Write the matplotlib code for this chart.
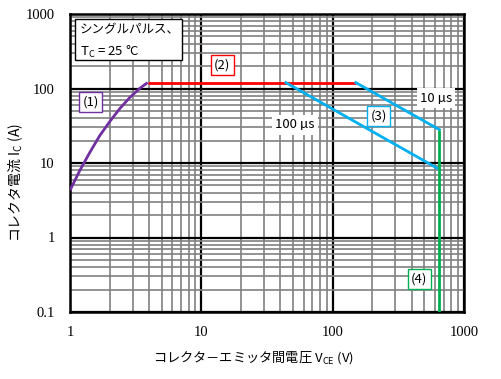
import numpy as np
import matplotlib
matplotlib.use('Agg')
import matplotlib.pyplot as plt
from matplotlib.patches import Rectangle
from matplotlib.ticker import LogLocator, NullFormatter

# curve (1): limit at low voltage
vce_1 = [1.0, 1.19, 1.42, 1.69, 2.02, 2.4, 2.86, 3.41, 3.9]
ic_1 = [4.3, 8.0, 14, 23.5, 36.5, 54, 76, 101, 120]
# curve (2): max pulse current
vce_2 = [3.9, 150]
ic_2 = [120, 120]
# curve (3): pulse width lines
vce_10us = [150, 650]
ic_10us = [120, 28]
vce_100us = [44, 650]
ic_100us = [120, 8.2]
# curve (4): max voltage
vce_4 = [650, 650]
ic_4 = [28, 0.1]

x_ticks = [1, 10, 100, 1000]
x_labels = ['1', '10', '100', '1000']
y_ticks = [0.1, 1, 10, 100, 1000]
y_labels = ['0.1', '1', '10', '100', '1000']

jp = 'Noto Sans CJK JP'
plt.rcParams['font.family'] = [jp, 'DejaVu Sans']

fig = plt.figure(figsize=(5.01, 3.79), dpi=100)
ax = fig.add_axes([70/501, 67/379, 394/501, 298/379])
ax.set_xscale('log')
ax.set_yscale('log')
ax.set_xlim(1, 1000)
ax.set_ylim(0.1, 1000)

ax.xaxis.set_minor_locator(LogLocator(base=10, subs=np.arange(2, 10)))
ax.yaxis.set_minor_locator(LogLocator(base=10, subs=np.arange(2, 10)))
ax.xaxis.set_minor_formatter(NullFormatter())
ax.yaxis.set_minor_formatter(NullFormatter())
ax.grid(True, which='minor', color='#808080', lw=1.2, zorder=0)
ax.grid(True, which='major', color='black', lw=1.6, zorder=1)
ax.set_axisbelow(True)
ax.set_xticks(x_ticks)
ax.set_xticklabels(x_labels)
ax.set_yticks(y_ticks)
ax.set_yticklabels(y_labels)
ax.tick_params(which='both', length=0)
ax.tick_params(axis='x', pad=10)
ax.tick_params(axis='y', pad=11)
for lab in ax.get_xticklabels() + ax.get_yticklabels():
    lab.set_fontfamily('Liberation Serif')
    lab.set_fontsize(10.5)
for s in ax.spines.values():
    s.set_linewidth(1.8)

lw = 2.0
ax.plot(vce_1, ic_1, color='#7030A0', lw=lw, zorder=3, solid_capstyle='butt')
ax.plot(vce_2, ic_2, color='#FF0000', lw=lw, zorder=3, solid_capstyle='butt')
ax.plot(vce_10us, ic_10us, color='#00B0F0', lw=lw, zorder=3)
ax.plot(vce_100us, ic_100us, color='#00B0F0', lw=lw, zorder=3)
ax.plot(vce_4, ic_4, color='#00B050', lw=lw, zorder=4, solid_capstyle='butt')


def label(x, y, s, ec):
    ax.text(x, y, s, transform=ax.transAxes, ha='center', va='center',
            fontsize=9.5, zorder=5,
            bbox=dict(boxstyle='square,pad=0.25', fc='white', ec=ec, lw=1))


label(0.053, 0.705, '(1)', '#7030A0')
label(0.386, 0.829, '(2)', '#FF0000')
label(0.783, 0.658, '(3)', '#00B0F0')
label(0.886, 0.111, '(4)', '#00B050')
label(0.929, 0.718, '10 µs', 'none')
label(0.571, 0.628, '100 µs', 'none')

ax.add_patch(Rectangle((0.0127, 0.846), 0.271, 0.137, transform=ax.transAxes,
                       fc='white', ec='black', lw=1, zorder=5))
ax.text(0.025, 0.946, 'シングルパルス、', transform=ax.transAxes, fontsize=9,
        va='center', ha='left', zorder=6)
ax.text(0.025, 0.874, 'T$_\\mathregular{C}$ = 25 °C', transform=ax.transAxes,
        fontsize=9.5, va='center', ha='left', zorder=6)

fig.text(253/501, 1 - 358/379, 'コレクタ－エミッタ間電圧 V$_\\mathregular{CE}$ (V)',
         ha='center', va='center', fontsize=9.5)
fig.text(16/501, 1 - 183/379, 'コレクタ電流 I$_\\mathregular{C}$ (A)',
         ha='center', va='center', fontsize=10, rotation=90)

fig.savefig('out.png', dpi=100)
